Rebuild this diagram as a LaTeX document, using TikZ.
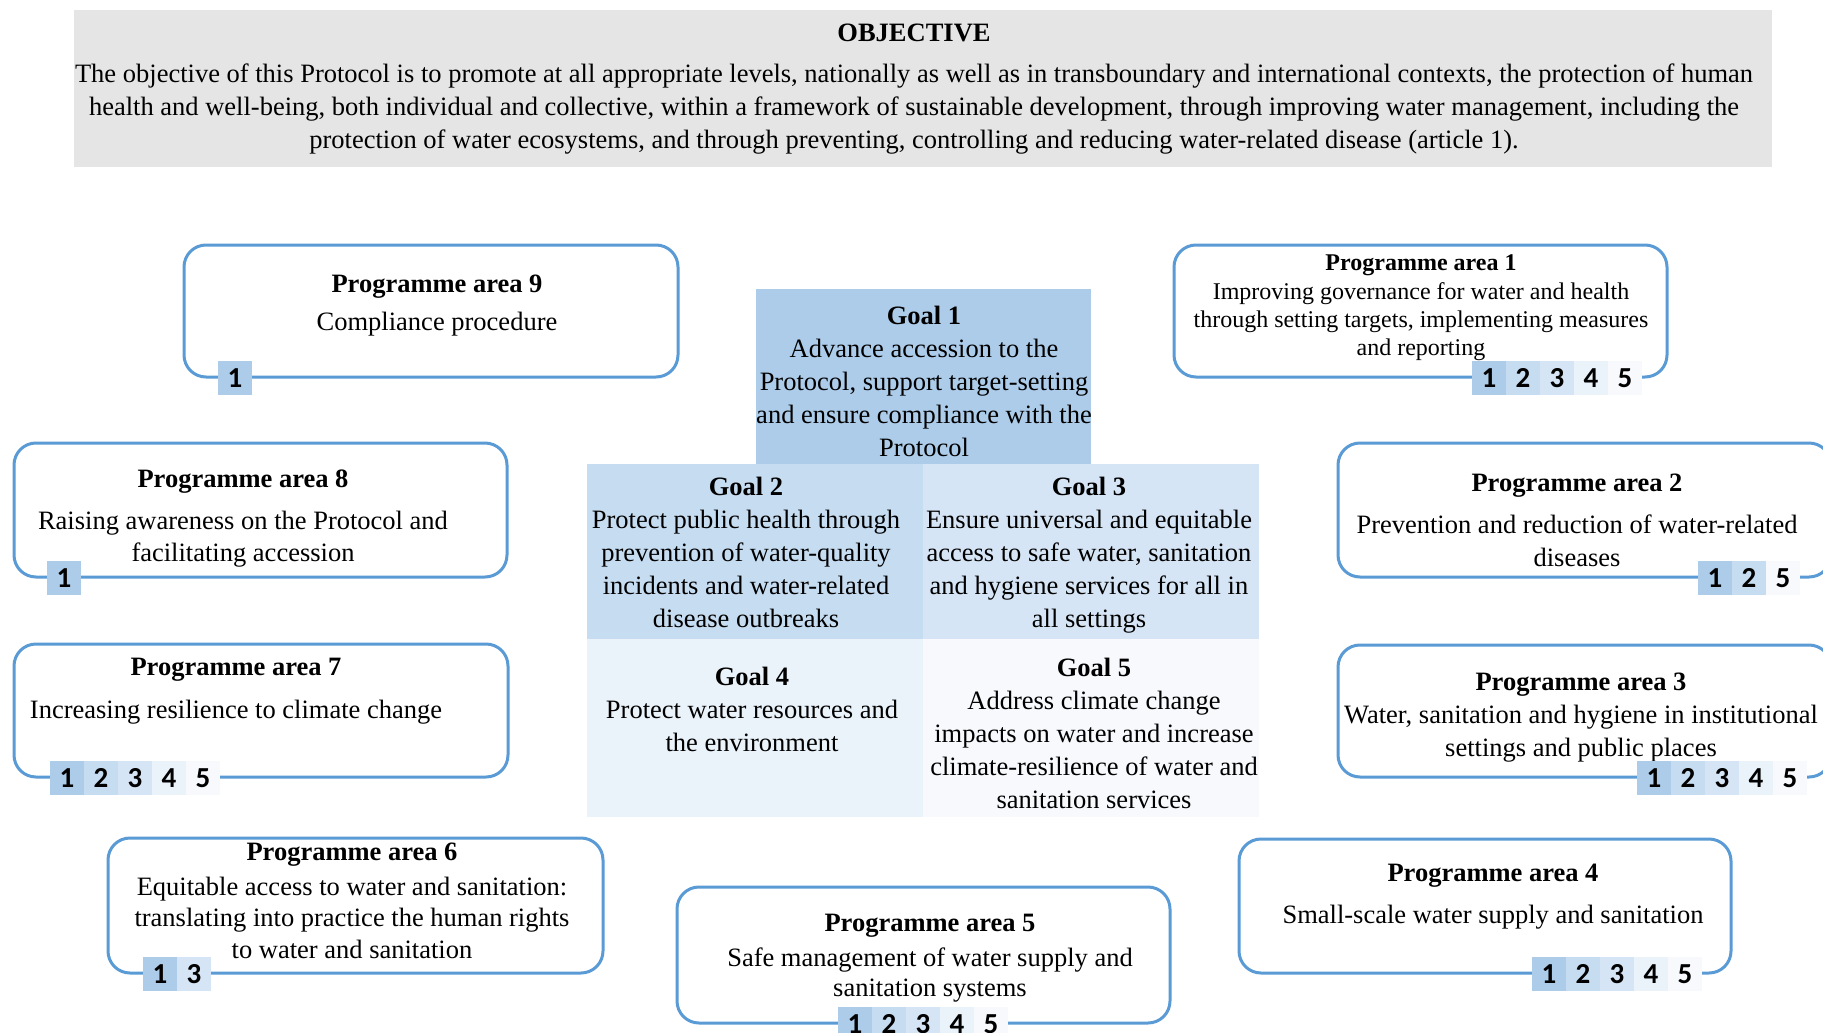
\documentclass[tikz,border=0pt]{standalone}
\usepackage{fontspec}
\setmainfont{Liberation Serif}
\newfontfamily\calib{Carlito}
\definecolor{bordercol}{RGB}{91,155,213}
\definecolor{objgray}{RGB}{229,229,229}
\definecolor{g1}{RGB}{173,204,234}
\definecolor{g2}{RGB}{198,220,241}
\definecolor{g3}{RGB}{214,229,245}
\definecolor{g4}{RGB}{234,242,250}
\definecolor{g5}{RGB}{247,249,252}
\begin{document}
\begin{tikzpicture}[x=1pt,y=-1pt,
  pabox/.style={draw=bordercol, line width=3pt, rounded corners=22pt, inner sep=0pt},
  goalbox/.style={fill=#1, inner sep=0pt, minimum width=336pt},
  txt/.style={font=\fontsize{26.5pt}{33pt}\selectfont, align=center, inner sep=0pt, anchor=base},
  ttl/.style={txt, font=\fontsize{26.5pt}{33pt}\selectfont\bfseries},
  smalltxt/.style={font=\fontsize{24pt}{28pt}\selectfont, align=center, inner sep=0pt, anchor=base},
  smallttl/.style={smalltxt, font=\fontsize{24pt}{28pt}\selectfont\bfseries},
  badge/.style={fill=#1, inner sep=0pt, minimum width=34pt, minimum height=34pt,
    font=\fontsize{29pt}{29pt}\calib\bfseries}]
\clip (0,0) rectangle (1823,1033);
\fill[white] (0,0) rectangle (1823,1033);

% Objective
\node[fill=objgray, inner sep=0pt, minimum width=1698pt, minimum height=157pt] (obj) at (923,88.5) {};
\node[ttl] (objt) at (914,42) {OBJECTIVE};
\node[txt] (objd) at (914,148) {The objective of this Protocol is to promote at all appropriate levels, nationally as well as in transboundary and international contexts, the protection of human\\health and well-being, both individual and collective, within a framework of sustainable development, through improving water management, including the\\protection of water ecosystems, and through preventing, controlling and reducing water-related disease (article 1).};

% Goals
\node[goalbox=g1, minimum width=335pt, minimum height=175pt] (g1box) at (923.5,376.5) {};
\node[goalbox=g2, minimum height=175pt] (g2box) at (755,551.5) {};
\node[goalbox=g3, minimum height=175pt] (g3box) at (1091,551.5) {};
\node[goalbox=g4, minimum height=178pt] (g4box) at (755,728) {};
\node[goalbox=g5, minimum height=178pt] (g5box) at (1091,728) {};
\node[txt] (g1t) at (924,456) {\textbf{Goal 1}\\Advance accession to the\\Protocol, support target-setting\\and ensure compliance with the\\Protocol};
\node[txt] (g2t) at (746,627) {\textbf{Goal 2}\\Protect public health through\\prevention of water-quality\\incidents and water-related\\disease outbreaks};
\node[txt] (g3t) at (1089,627) {\textbf{Goal 3}\\Ensure universal and equitable\\access to safe water, sanitation\\and hygiene services for all in\\all settings};
\node[txt] (g4t) at (752,751) {\textbf{Goal 4}\\Protect water resources and\\the environment};
\node[txt] (g5t) at (1094,808) {\textbf{Goal 5}\\Address climate change\\impacts on water and increase\\climate-resilience of water and\\sanitation services};

% Programme area boxes
\node[pabox, minimum width=494pt, minimum height=132pt] (pa9) at (431,311) {};
\node[pabox, minimum width=493pt, minimum height=132pt] (pa1) at (1420.5,311) {};
\node[pabox, minimum width=493pt, minimum height=134pt] (pa8) at (260.5,510) {};
\node[pabox, minimum width=494pt, minimum height=133pt] (pa7) at (261,710.5) {};
\node[pabox, minimum width=495pt, minimum height=135pt] (pa6) at (355.5,905.5) {};
\node[pabox, minimum width=493pt, minimum height=136pt] (pa5) at (923.5,955) {};
\node[pabox, minimum width=492pt, minimum height=134pt] (pa4) at (1485,906) {};
\node[pabox, minimum width=493pt, minimum height=134pt] (pa2) at (1584.5,510) {};
\node[pabox, minimum width=493pt, minimum height=132pt] (pa3) at (1584.5,711) {};

% Programme area texts
\node[ttl] (pa9t) at (437,292) {Programme area 9};
\node[txt] (pa9d) at (437,330) {Compliance procedure};
\node[smallttl] (pa1t) at (1421,270) {Programme area 1};
\node[smalltxt] (pa1d) at (1421,355) {Improving governance for water and health\\through setting targets, implementing measures\\and reporting};
\node[ttl] (pa8t) at (243,487) {Programme area 8};
\node[txt, font=\fontsize{26.5pt}{32pt}\selectfont] (pa8d) at (243,561) {Raising awareness on the Protocol and\\facilitating accession};
\node[ttl] (pa7t) at (236,675) {Programme area 7};
\node[txt] (pa7d) at (236,718) {Increasing resilience to climate change};
\node[ttl] (pa6t) at (352,860) {Programme area 6};
\node[txt, font=\fontsize{26.5pt}{31.5pt}\selectfont] (pa6d) at (352,958) {Equitable access to water and sanitation:\\translating into practice the human rights\\to water and sanitation};
\node[ttl] (pa5t) at (930,931) {Programme area 5};
\node[txt, font=\fontsize{26.5pt}{30pt}\selectfont] (pa5d) at (930,996) {Safe management of water supply and\\sanitation systems};
\node[ttl] (pa4t) at (1493,881) {Programme area 4};
\node[txt] (pa4d) at (1493,923) {Small-scale water supply and sanitation};
\node[ttl] (pa2t) at (1577,491) {Programme area 2};
\node[txt] (pa2d) at (1577,566) {Prevention and reduction of water-related\\diseases};
\node[ttl] (pa3t) at (1581,690) {Programme area 3};
\node[txt] (pa3d) at (1581,756) {Water, sanitation and hygiene in institutional\\settings and public places};

% Badges
\node[badge=g1] (pa9b1) at (235,378) {1};
\foreach \n [count=\i from 0] in {1,...,5} \node[badge=g\n] (pa1b\n) at ({1489+34*\i},378) {\n};
\node[badge=g1] (pa8b1) at (64,578) {1};
\foreach \n [count=\i from 0] in {1,...,5} \node[badge=g\n] (pa7b\n) at ({67+34*\i},778) {\n};
\foreach \n [count=\i from 0] in {1,3} \node[badge=g\n] (pa6b\n) at ({160+34*\i},974) {\n};
\foreach \n [count=\i from 0] in {1,...,5} \node[badge=g\n] (pa5b\n) at ({855+34*\i},1024) {\n};
\foreach \n [count=\i from 0] in {1,...,5} \node[badge=g\n] (pa4b\n) at ({1549+34*\i},974) {\n};
\foreach \n [count=\i from 0] in {1,2,5} \node[badge=g\n] (pa2b\n) at ({1715+34*\i},578) {\n};
\foreach \n [count=\i from 0] in {1,...,5} \node[badge=g\n] (pa3b\n) at ({1654+34*\i},778) {\n};
\end{tikzpicture}
\end{document}
